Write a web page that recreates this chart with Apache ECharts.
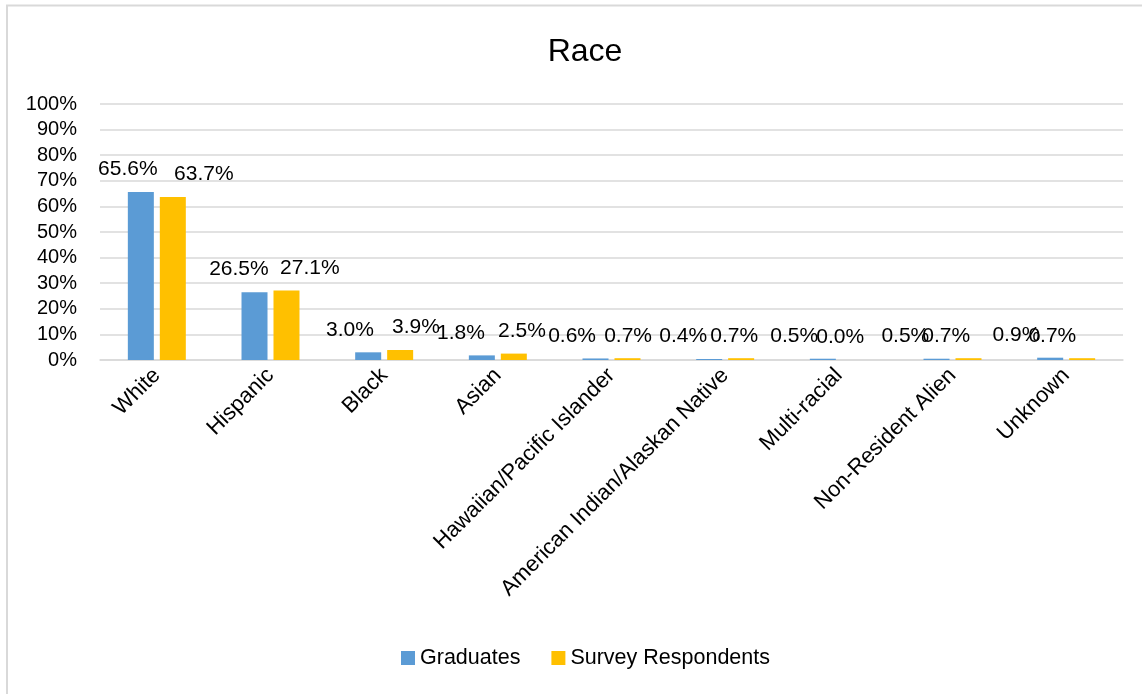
<!DOCTYPE html>
<html>
<head>
<meta charset="utf-8">
<script src="https://cdn.jsdelivr.net/npm/echarts@6/dist/echarts.min.js"></script>
<style>
html,body{margin:0;padding:0;background:#fff;}
#chart{width:1142px;height:694px;}
</style>
</head>
<body>
<div id="chart"></div>
<script>
const categories = ["White","Hispanic","Black","Asian","Hawaiian/Pacific Islander","American Indian/Alaskan Native","Multi-racial","Non-Resident Alien","Unknown"];
const graduates = [65.6, 26.5, 3.0, 1.8, 0.6, 0.4, 0.5, 0.5, 0.9];
const respondents = [63.7, 27.1, 3.9, 2.5, 0.7, 0.7, 0.0, 0.7, 0.7];
const seriesNames = ["Graduates","Survey Respondents"];
const yTicks = [0,10,20,30,40,50,60,70,80,90,100];

const FONT = "Liberation Sans";
const chart = echarts.init(document.getElementById('chart'), null, {renderer:'canvas'});

function makeData(vals, base, slope){
  return vals.map((v,i)=>({
    value: v,
    label: { offset: [base + slope*i, 0] }
  }));
}

const labelStyle = {
  show: true, position: 'top', distance: 12,
  formatter: p => p.value.toFixed(1) + '%',
  fontFamily: FONT, fontSize: 21, color: '#000', lineHeight: 21
};

chart.setOption({
  animation: false,
  backgroundColor: '#fff',
  title: {
    text: 'Race', left: 580, top: 31, textAlign: 'center',
    textStyle: { fontFamily: FONT, fontSize: 32, fontWeight: 'normal', color: '#000' }
  },
  legend: {
    data: seriesNames, left: 401, top: 647, padding: 0,
    itemWidth: 14, itemHeight: 14, itemGap: 31, icon: 'rect',
    textStyle: { fontFamily: FONT, fontSize: 21.5, color: '#000' }
  },
  grid: { left: 100, right: 19, top: 104, bottom: 334, containLabel: false },
  xAxis: {
    type: 'category', data: categories,
    axisLine: { show: true, lineStyle: { color: '#d9d9d9', width: 1.5 } },
    axisTick: { show: false },
    axisLabel: { rotate: 45, interval: 0, margin: 12, fontFamily: FONT, fontSize: 22, color: '#000' }
  },
  yAxis: {
    type: 'value', min: 0, max: 100, interval: 10,
    axisLine: { show: false }, axisTick: { show: false },
    splitLine: { lineStyle: { color: '#d9d9d9', width: 1.5 } },
    axisLabel: { margin: 23, fontFamily: FONT, fontSize: 20, color: '#000',
      formatter: v => yTicks.includes(v) ? v + '%' : '' }
  },
  series: [
    { name: seriesNames[0], type: 'bar', data: makeData(graduates, -13, -2.6),
      barWidth: 26, barGap: '23%', itemStyle: { color: '#5B9BD5' }, label: labelStyle },
    { name: seriesNames[1], type: 'bar', data: makeData(respondents, 31, -7.6),
      barWidth: 26, itemStyle: { color: '#FFC000' }, label: labelStyle }
  ],
  graphic: [
    { type: 'rect', shape: { x: 7, y: 5.5, width: 1200, height: 720 },
      style: { fill: 'none', stroke: '#d9d9d9', lineWidth: 2 }, silent: true, z: -1 }
  ]
});
</script>
</body>
</html>
